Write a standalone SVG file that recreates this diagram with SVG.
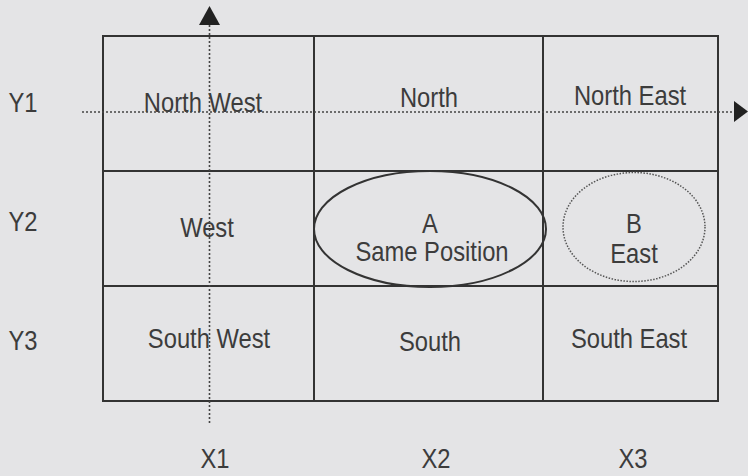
<svg xmlns="http://www.w3.org/2000/svg" width="748" height="476" viewBox="0 0 748 476">
<defs>
<style>
.bg{fill:#e4e4e6}
.cell{fill:none;stroke:#333;stroke-width:2}
.t{font-family:"Liberation Sans",Arial,sans-serif;font-size:27px;fill:#3c3c3c;text-anchor:middle}
.ax{stroke:#444;stroke-width:1.6;stroke-dasharray:2 2;fill:none}
.head{fill:#222}
</style>
</defs>
<rect class="bg" x="0" y="0" width="748" height="476"/>
<g id="axis-labels">
<text class="t" transform="translate(23,112) scale(0.88,1)">Y1</text>
<text class="t" transform="translate(23,231) scale(0.88,1)">Y2</text>
<text class="t" transform="translate(23,350) scale(0.88,1)">Y3</text>
<text class="t" transform="translate(215,468) scale(0.88,1)">X1</text>
<text class="t" transform="translate(436,468) scale(0.88,1)">X2</text>
<text class="t" transform="translate(633,468) scale(0.88,1)">X3</text>
</g>
<g id="north-west"><rect class="cell" x="103" y="36" width="211" height="135"/><text class="t" transform="translate(203,112) scale(0.88,1)">North West</text></g>
<g id="north"><rect class="cell" x="314" y="36" width="229" height="135"/><text class="t" transform="translate(429,107) scale(0.88,1)">North</text></g>
<g id="north-east"><rect class="cell" x="543" y="36" width="175" height="135"/><text class="t" transform="translate(630,105) scale(0.88,1)">North East</text></g>
<g id="west"><rect class="cell" x="103" y="171" width="211" height="115"/><text class="t" transform="translate(207,237) scale(0.88,1)">West</text></g>
<g id="center-cell"><rect class="cell" x="314" y="171" width="229" height="115"/></g>
<g id="east-cell"><rect class="cell" x="543" y="171" width="175" height="115"/></g>
<g id="south-west"><rect class="cell" x="103" y="286" width="211" height="115"/><text class="t" transform="translate(209,348) scale(0.88,1)">South West</text></g>
<g id="south"><rect class="cell" x="314" y="286" width="229" height="115"/><text class="t" transform="translate(430,351) scale(0.88,1)">South</text></g>
<g id="south-east"><rect class="cell" x="543" y="286" width="175" height="115"/><text class="t" transform="translate(629,348) scale(0.88,1)">South East</text></g>
<g id="node-a">
<ellipse cx="430" cy="229" rx="116" ry="58" fill="none" stroke="#333" stroke-width="2"/>
<text class="t" transform="translate(430,233) scale(0.88,1)">A</text>
<text class="t" transform="translate(432,261) scale(0.88,1)">Same Position</text>
</g>
<g id="node-b">
<ellipse cx="634" cy="227" rx="71" ry="54.5" fill="none" stroke="#555" stroke-width="1.5" stroke-dasharray="1.5 1.5"/>
<text class="t" transform="translate(634,233) scale(0.88,1)">B</text>
<text class="t" transform="translate(634,263) scale(0.88,1)">East</text>
</g>
<g id="connectors">
<line class="ax" x1="82" y1="112" x2="734" y2="112"/>
<polygon class="head" points="734,101 748,111.5 734,122"/>
<line class="ax" x1="209.5" y1="25" x2="209.5" y2="423"/>
<polygon class="head" points="199,25 209.5,6 220,25"/>
</g>
</svg>
